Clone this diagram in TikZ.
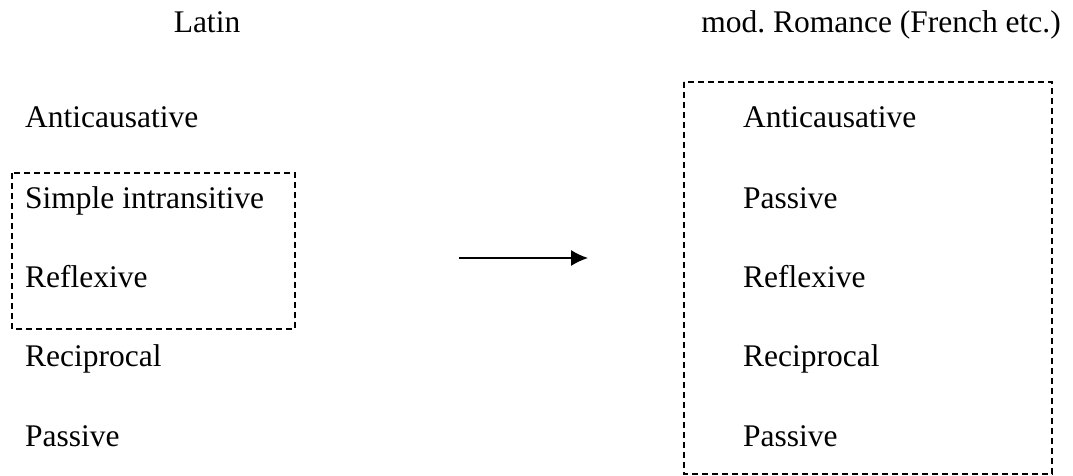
\documentclass[tikz,border=0pt]{standalone}
\usepackage{fontspec}
\setmainfont{Liberation Serif}
\usepackage{tikz}
\usetikzlibrary{arrows.meta,calc}
\tikzset{>={Latex[length=17pt,width=16pt]}}
\tikzstyle{item}=[
	 inner sep=0pt, anchor=base west,
	 font=\fontsize{31.5}{38}\selectfont
    ]
\tikzstyle{head}=[
	 inner sep=0pt, anchor=base,
	 font=\fontsize{31.5}{38}\selectfont
    ]
\tikzstyle{group}=[
	 draw, line width=1.1pt, dash pattern=on 6pt off 4pt
    ]

\begin{document}
\begin{tikzpicture}[x=1pt,y=-1pt]
\useasboundingbox (0,0) rectangle (1073,476);

\node[head] (LH) at (207,33) {Latin};
\node[head] (RH) at (881,33) {mod.\ Romance (French etc.)};

\node[item] (L1) at (25,128) {Anticausative};
\node[item] (L2) at (25,208) {Simple intransitive};
\node[item] (L3) at (25,287) {Reflexive};
\node[item] (L4) at (25,366) {Reciprocal};
\node[item] (L5) at (25,446) {Passive};

\node[item] (R1) at (743,128) {Anticausative};
\node[item] (R2) at (743,208) {Passive};
\node[item] (R3) at (743,287) {Reflexive};
\node[item] (R4) at (743,366) {Reciprocal};
\node[item] (R5) at (743,446) {Passive};

\draw[group] (12,173) rectangle (295,329);
\draw[group] (684,82) rectangle (1052,474);

\coordinate (from) at (459,258);
\coordinate (to) at (588,258);
\draw[->,line width=1.4pt] (from) -- (to);

\end{tikzpicture}
\end{document}
